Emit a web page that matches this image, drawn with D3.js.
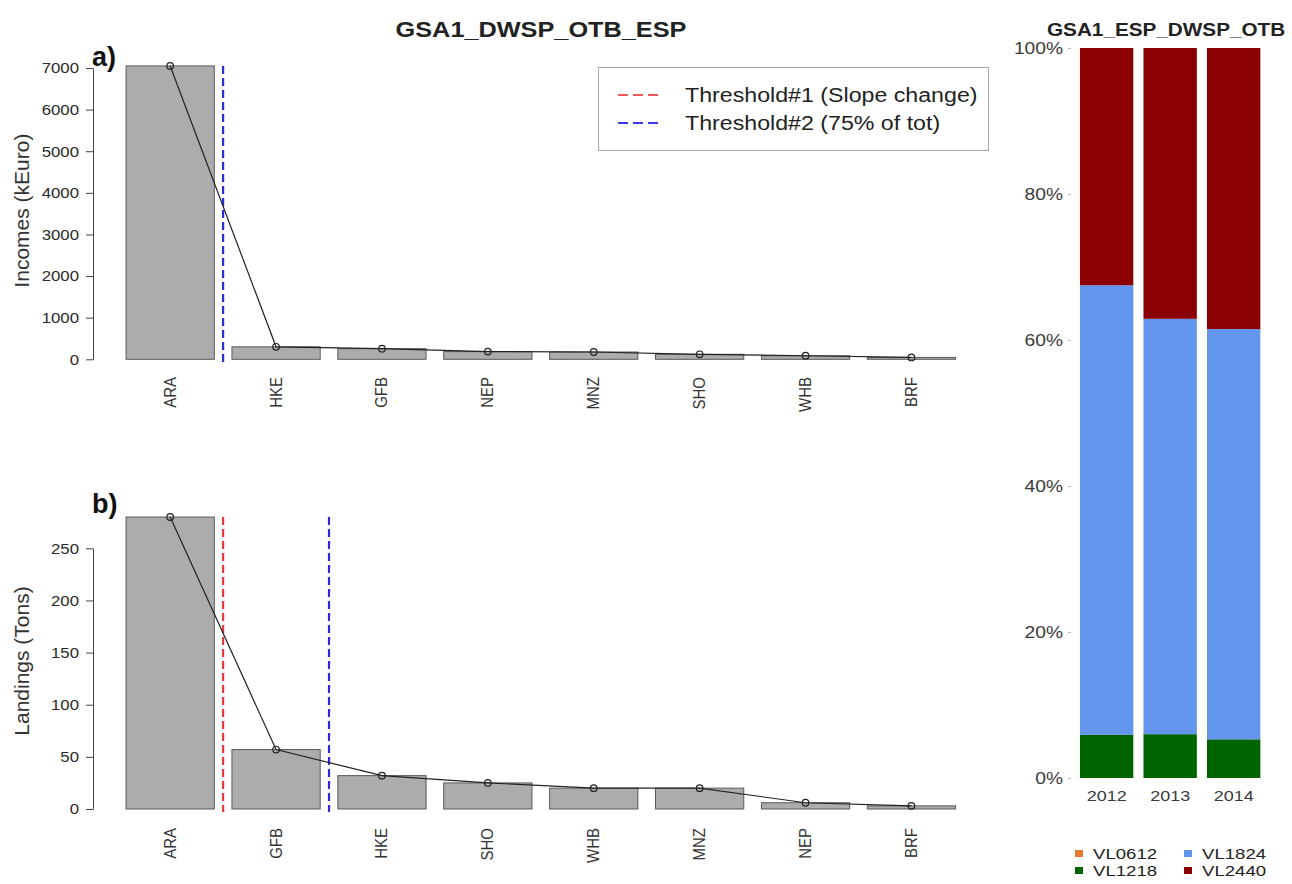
<!DOCTYPE html>
<html>
<head>
<meta charset="utf-8">
<script src="https://cdn.jsdelivr.net/npm/d3@7"></script>
<style>
  body { margin: 0; background: #fff; }
  svg { display: block; font-family: "Liberation Sans", Arial, Helvetica, sans-serif; }
</style>
</head>
<body>
<div id="chart"></div>
<script>
// DATA
var incomeSpecies = ["ARA", "HKE", "GFB", "NEP", "MNZ", "SHO", "WHB", "BRF"];
var incomeValues = [7050, 300, 255, 185, 175, 120, 85, 45];
var incomeTicks = [0, 1000, 2000, 3000, 4000, 5000, 6000, 7000];

var landSpecies = ["ARA", "GFB", "HKE", "SHO", "WHB", "MNZ", "NEP", "BRF"];
var landValues = [280, 57, 32, 25, 20, 20, 6, 3];
var landTicks = [0, 50, 100, 150, 200, 250];

// thresholds: index of the last species before the line
var incomeThresholds = [{ after: 0, color: "#2b2be0" }];
var landThresholds = [
  { after: 0, color: "#e83b3b" },
  { after: 1, color: "#2b2be0" },
];

var legendLabels = ["Threshold#1 (Slope change)", "Threshold#2 (75% of tot)"];
var legendColors = ["#ee5a5a", "#3a3ae8"];

var years = ["2012", "2013", "2014"];
var lengthClasses = ["VL0612", "VL1218", "VL1824", "VL2440"];
var classColors = ["#e37a2e", "#006400", "#6495ed", "#8b0000"];
var vl0612 = [0, 0, 0];
var vl1218 = [0.059, 0.06, 0.053];
var vl1824 = [0.616, 0.569, 0.562];
var vl2440 = [0.325, 0.371, 0.385];
var pctTicks = [0, 0.2, 0.4, 0.6, 0.8, 1];

var svg = d3
  .select("#chart")
  .append("svg")
  .attr("width", 1292)
  .attr("height", 884);

// helper for text, the picture is a bit stretched sideways
function addText(sel, x, y, str, o) {
  var tr = "translate(" + x + "," + y + ") scale(" + (o.sx || 1) + ",1)";
  if (o.rot) tr += " rotate(" + o.rot + ")";
  return sel
    .append("text")
    .attr("transform", tr)
    .attr("text-anchor", o.anchor || "start")
    .style("font-size", o.size + "px")
    .style("font-weight", o.bold ? "bold" : "normal")
    .attr("fill", o.color || "#222")
    .text(str);
}

// titles
addText(svg, 541, 37, "GSA1_DWSP_OTB_ESP", { size: 22, bold: true, sx: 1.15, anchor: "middle" });
addText(svg, 1047, 36, "GSA1_ESP_DWSP_OTB", { size: 18.5, bold: true, sx: 1.12 });

// x band used by both left panels
function makeX(cats) {
  return d3
    .scaleBand()
    .domain(cats)
    .range([108.4, 973.2])
    .paddingInner(0.2 / 1.2)
    .paddingOuter(0.2 / 1.2);
}

function drawPanel(opt) {
  var x = makeX(opt.cats);
  var y = d3.scaleLinear().domain([0, opt.ticks[opt.ticks.length - 1]]).range(opt.yRange);
  var g = svg.append("g");
  var maxV = d3.max(opt.values);

  // y axis
  var yAxis = d3
    .axisLeft(y)
    .tickValues(opt.ticks)
    .tickFormat(d3.format("d"))
    .tickSize(7)
    .tickPadding(7)
    .tickSizeOuter(0);
  var ax = g.append("g").attr("transform", "translate(93,0)").call(yAxis);
  ax.select(".domain").attr("stroke", "#444");
  ax.selectAll(".tick line").attr("stroke", "#444");
  ax.selectAll(".tick text")
    .attr("fill", "#2a2a2a")
    .style("font-size", "15px")
    .attr("transform", "scale(1.12,1)")
    .attr("x", -14 / 1.12);

  // axis title
  addText(g, 29, (opt.yRange[0] + y(maxV)) / 2 - 2, opt.yTitle, { size: 21, rot: -90, anchor: "middle", color: "#333" });
  // panel letter
  addText(g, 92, opt.letterY, opt.letter, { size: 27, bold: true, color: "#111" });

  // bars
  g.selectAll("rect.bar")
    .data(opt.values)
    .enter()
    .append("rect")
    .attr("class", "bar")
    .attr("x", function (d, i) { return x(opt.cats[i]); })
    .attr("y", function (d) { return y(d); })
    .attr("width", x.bandwidth())
    .attr("height", function (d) { return y(0) - y(d); })
    .attr("fill", "#acacac")
    .attr("stroke", "#5a5a5a")
    .attr("stroke-width", 1);

  // threshold lines
  var half = (x.step() - x.bandwidth()) / 2;
  g.selectAll("line.thr")
    .data(opt.thresholds)
    .enter()
    .append("line")
    .attr("class", "thr")
    .attr("x1", function (d) { return x(opt.cats[d.after]) + x.bandwidth() + half; })
    .attr("x2", function (d) { return x(opt.cats[d.after]) + x.bandwidth() + half; })
    .attr("y1", y(maxV))
    .attr("y2", y(0) + 3)
    .attr("stroke", function (d) { return d.color; })
    .attr("stroke-width", 2.2)
    .attr("stroke-dasharray", "8,4");

  // line with circles
  var line = d3
    .line()
    .x(function (d, i) { return x(opt.cats[i]) + x.bandwidth() / 2; })
    .y(function (d) { return y(d); });
  g.append("path")
    .datum(opt.values)
    .attr("d", line)
    .attr("fill", "none")
    .attr("stroke", "#222")
    .attr("stroke-width", 1.2);
  g.selectAll("circle.pt")
    .data(opt.values)
    .enter()
    .append("circle")
    .attr("class", "pt")
    .attr("cx", function (d, i) { return x(opt.cats[i]) + x.bandwidth() / 2; })
    .attr("cy", function (d) { return y(d); })
    .attr("r", 3.3)
    .attr("fill", "none")
    .attr("stroke", "#222")
    .attr("stroke-width", 1.2);

  // species labels
  opt.cats.forEach(function (c) {
    addText(g, x(c) + x.bandwidth() / 2 + 5.5, opt.labelY, c, { size: 15, rot: -90, anchor: "end", sx: 1.1, color: "#333" });
  });
}

drawPanel({
  cats: incomeSpecies,
  values: incomeValues,
  ticks: incomeTicks,
  yRange: [359.3, 68],
  yTitle: "Incomes (kEuro)",
  letter: "a)",
  letterY: 66,
  labelY: 377,
  thresholds: incomeThresholds,
});

drawPanel({
  cats: landSpecies,
  values: landValues,
  ticks: landTicks,
  yRange: [809, 548.3],
  yTitle: "Landings (Tons)",
  letter: "b)",
  letterY: 513,
  labelY: 828,
  thresholds: landThresholds,
});

// legend of thresholds
var leg = svg.append("g");
leg.append("rect")
  .attr("x", 598.5)
  .attr("y", 67.5)
  .attr("width", 390)
  .attr("height", 83)
  .attr("fill", "#fff")
  .attr("stroke", "#aaa")
  .attr("stroke-width", 1);
legendLabels.forEach(function (lab, i) {
  var ly = 95 + i * 28;
  leg.append("line")
    .attr("x1", 618).attr("x2", 662)
    .attr("y1", ly).attr("y2", ly)
    .attr("stroke", legendColors[i])
    .attr("stroke-width", 2)
    .attr("stroke-dasharray", "10,5");
  addText(leg, 685, ly + 7, lab, { size: 20, sx: 1.16, color: "#222" });
});

// right stacked bars
var xr = d3.scaleBand().domain(years).range([1073.6, 1266.7]).paddingInner(0.16).paddingOuter(0.1);
var yr = d3.scaleLinear().domain([0, 1]).range([778, 48]);

var rows = years.map(function (yy, i) {
  return { year: yy, VL0612: vl0612[i], VL1218: vl1218[i], VL1824: vl1824[i], VL2440: vl2440[i] };
});
var stackOrder = ["VL1218", "VL1824", "VL2440", "VL0612"];
var stacked = d3.stack().keys(stackOrder)(rows);
var colorOf = d3.scaleOrdinal().domain(lengthClasses).range(classColors);

var gr = svg.append("g");
gr.selectAll("g.layer")
  .data(stacked)
  .enter()
  .append("g")
  .attr("class", "layer")
  .attr("fill", function (d) { return colorOf(d.key); })
  .selectAll("rect")
  .data(function (d) { return d; })
  .enter()
  .append("rect")
  .attr("x", function (d) { return xr(d.data.year); })
  .attr("y", function (d) { return yr(d[1]); })
  .attr("width", xr.bandwidth())
  .attr("height", function (d) { return yr(d[0]) - yr(d[1]); });

var rAxis = d3.axisLeft(yr).tickValues(pctTicks).tickFormat(d3.format(".0%")).tickSize(3).tickPadding(5);
var rax = gr.append("g").attr("transform", "translate(1071,0)").call(rAxis);
rax.select(".domain").remove();
rax.selectAll(".tick line").attr("stroke", "#bbb");
rax.selectAll(".tick text")
  .attr("fill", "#3a3a3a")
  .style("font-size", "16px")
  .attr("transform", "scale(1.2,1)")
  .attr("x", -8 / 1.2);

years.forEach(function (yy) {
  addText(gr, xr(yy) + xr.bandwidth() / 2, 801, yy, { size: 15, sx: 1.2, anchor: "middle", color: "#3a3a3a" });
});

// class legend, two columns
var legPos = [
  [1075, 850],
  [1075, 867],
  [1184, 850],
  [1184, 867],
];
var legOrder = ["VL0612", "VL1218", "VL1824", "VL2440"];
legOrder.forEach(function (k, i) {
  gr.append("rect")
    .attr("x", legPos[i][0])
    .attr("y", legPos[i][1])
    .attr("width", 8)
    .attr("height", 7)
    .attr("fill", colorOf(k));
  addText(gr, legPos[i][0] + 18, legPos[i][1] + 8.5, k, { size: 15, sx: 1.24, color: "#222" });
});
</script>
</body>
</html>
